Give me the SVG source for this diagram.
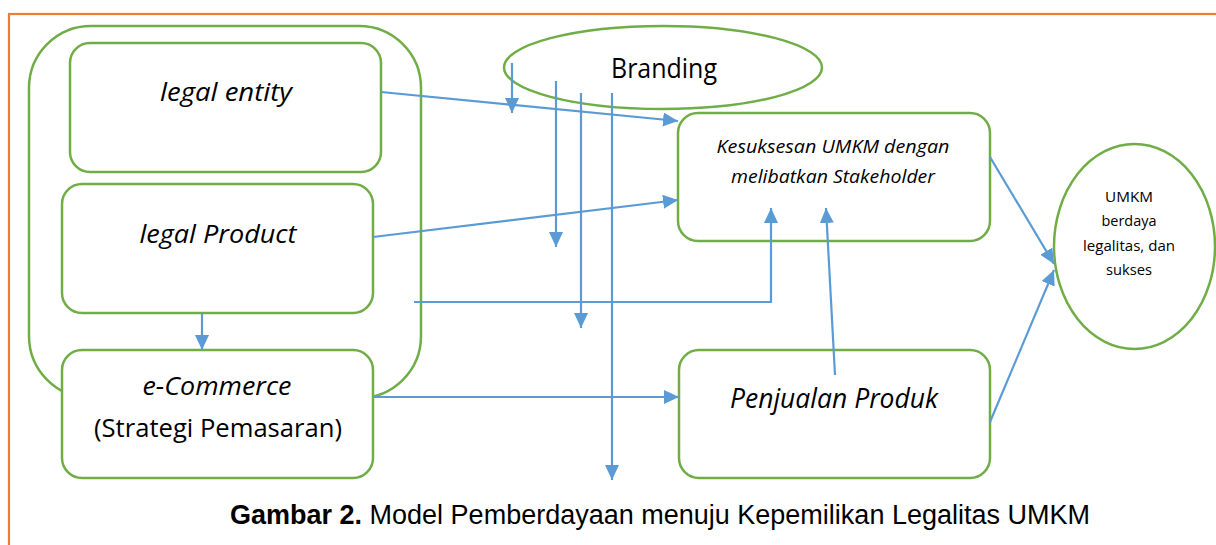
<svg xmlns="http://www.w3.org/2000/svg" width="1216" height="545" viewBox="0 0 1216 545">
<style>
.box{fill:#fff;stroke:#70AD47;stroke-width:2.5}
.con{fill:none;stroke:#5B9BD5;stroke-width:2.2}
.t{font-family:"Open Sans","Noto Sans",sans-serif;fill:#000;text-anchor:middle}
.i{font-style:italic}
</style>
<defs>
<marker id="ah" markerUnits="userSpaceOnUse" markerWidth="16" markerHeight="14" refX="15" refY="7" orient="auto">
<path d="M0,0 L15,7 L0,14 Z" fill="#5B9BD5"/>
</marker>
</defs>
<rect x="9" y="14" width="1240" height="560" fill="none" stroke="#ED7D31" stroke-width="2.2"/>
<g id="group-outer">
<rect class="box" x="29" y="26" width="392" height="372" rx="62"/>
</g>
<g id="legal-entity">
<rect class="box" x="70" y="43" width="311" height="129" rx="20"/>
<text class="t i" x="226" y="101" font-size="26" textLength="132" lengthAdjust="spacingAndGlyphs">legal entity</text>
</g>
<g id="legal-product">
<rect class="box" x="62" y="184" width="311" height="129" rx="20"/>
<text class="t i" x="218" y="243" font-size="26" textLength="157" lengthAdjust="spacingAndGlyphs">legal Product</text>
</g>
<g id="e-commerce">
<rect class="box" x="62" y="350" width="311" height="128" rx="20"/>
<text class="t i" x="217" y="395" font-size="26" textLength="149" lengthAdjust="spacingAndGlyphs">e-Commerce</text>
<text class="t" x="218" y="437" font-size="26" textLength="248" lengthAdjust="spacingAndGlyphs">(Strategi Pemasaran)</text>
</g>
<g id="branding">
<ellipse class="box" cx="663" cy="67.5" rx="159" ry="41.5"/>
<text class="t" x="664" y="78" font-size="27" textLength="106" lengthAdjust="spacingAndGlyphs">Branding</text>
</g>
<g id="kesuksesan">
<rect class="box" x="678" y="113" width="312" height="128" rx="20"/>
<text class="t i" x="833" y="153" font-size="18.5" textLength="233" lengthAdjust="spacingAndGlyphs">Kesuksesan UMKM dengan</text>
<text class="t i" x="833" y="183" font-size="18.5" textLength="204" lengthAdjust="spacingAndGlyphs">melibatkan Stakeholder</text>
</g>
<g id="penjualan">
<rect class="box" x="679" y="350" width="311" height="128" rx="20"/>
<text class="t i" x="834" y="408" font-size="27" textLength="208" lengthAdjust="spacingAndGlyphs">Penjualan Produk</text>
</g>
<g id="umkm">
<ellipse class="box" cx="1134.5" cy="246.5" rx="80.5" ry="102.5"/>
<text class="t" x="1129" y="202" font-size="15" textLength="48" lengthAdjust="spacingAndGlyphs">UMKM</text>
<text class="t" x="1129" y="226" font-size="15" textLength="55" lengthAdjust="spacingAndGlyphs">berdaya</text>
<text class="t" x="1129" y="251" font-size="15" textLength="92" lengthAdjust="spacingAndGlyphs">legalitas, dan</text>
<text class="t" x="1129" y="275" font-size="15" textLength="46" lengthAdjust="spacingAndGlyphs">sukses</text>
</g>
<g id="connectors">
<line class="con" x1="381" y1="92" x2="678" y2="121" marker-end="url(#ah)"/>
<line class="con" x1="373" y1="237" x2="678" y2="200" marker-end="url(#ah)"/>
<line class="con" x1="202" y1="313" x2="202" y2="350" marker-end="url(#ah)"/>
<line class="con" x1="512" y1="63" x2="512" y2="113" marker-end="url(#ah)"/>
<line class="con" x1="556" y1="81" x2="556" y2="247" marker-end="url(#ah)"/>
<line class="con" x1="581" y1="93" x2="581" y2="328" marker-end="url(#ah)"/>
<line class="con" x1="612" y1="93" x2="612" y2="480" marker-end="url(#ah)"/>
<polyline class="con" points="414,302 771,302 771,208" marker-end="url(#ah)"/>
<line class="con" x1="835" y1="375" x2="826" y2="208" marker-end="url(#ah)"/>
<line class="con" x1="373" y1="397" x2="679" y2="397" marker-end="url(#ah)"/>
<line class="con" x1="990" y1="157" x2="1054" y2="264" marker-end="url(#ah)"/>
<line class="con" x1="990" y1="422" x2="1054" y2="270" marker-end="url(#ah)"/>
</g>
<text x="230" y="524" font-family="'Liberation Sans',Arial,sans-serif" font-size="27" textLength="860" lengthAdjust="spacingAndGlyphs"><tspan font-weight="bold">Gambar 2.</tspan> Model Pemberdayaan menuju Kepemilikan Legalitas UMKM</text>
</svg>
